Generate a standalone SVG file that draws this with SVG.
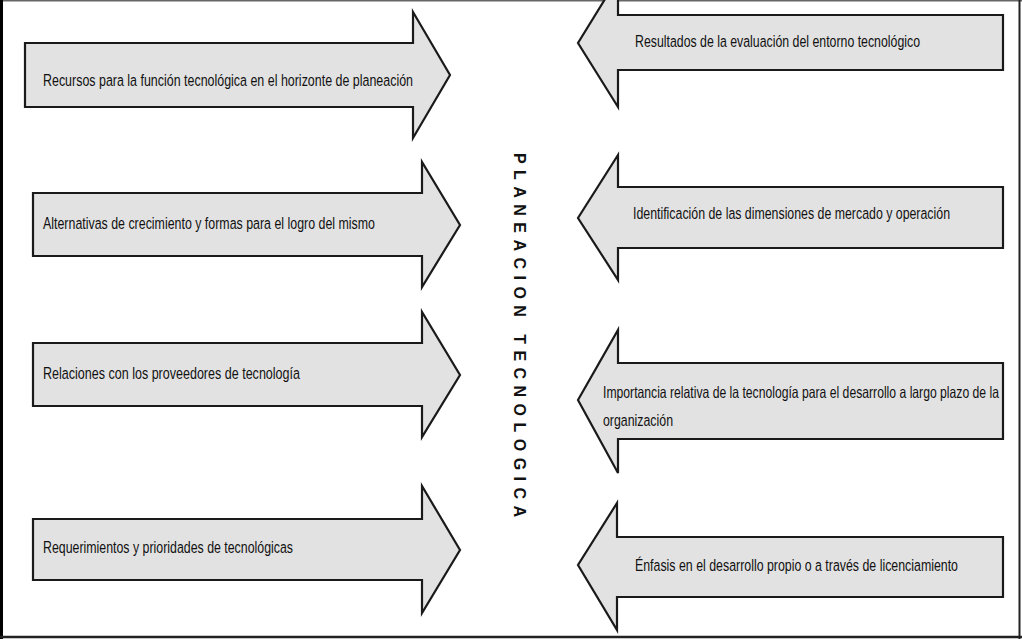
<svg xmlns="http://www.w3.org/2000/svg" width="1022" height="639" viewBox="0 0 1022 639">
  <style>
    .arrow { fill: #e2e2e2; stroke: #1a1a1a; stroke-width: 2.2; stroke-linejoin: miter; }
    .lbl { font-family: "Liberation Sans", Arial, sans-serif; font-size: 14px; fill: #111; }
    .title { font-family: "Liberation Sans", Arial, sans-serif; font-size: 16px; font-weight: bold; fill: #111; }
  </style>
  <rect x="0" y="0" width="1022" height="639" fill="#ffffff"/>
  <g id="frame">
    <line x1="0" y1="0.75" x2="1022" y2="0.75" stroke="#666" stroke-width="1.5"/>
    <line x1="1.5" y1="0" x2="1.5" y2="639" stroke="#000" stroke-width="3"/>
    <line x1="1019.5" y1="0" x2="1019.5" y2="639" stroke="#222" stroke-width="2"/>
    <line x1="0" y1="637" x2="1022" y2="637" stroke="#222" stroke-width="2.5"/>
  </g>
  <g id="connectors"></g>
  <g id="n1">
    <polygon class="arrow" points="25,43 413,43 413,12 450,75 413,138 413,107 25,107"/>
    <text class="lbl" transform="translate(43,86) scale(1,1.12)" textLength="370" lengthAdjust="spacingAndGlyphs">Recursos para la función tecnológica en el horizonte de planeación</text>
  </g>
  <g id="n2">
    <polygon class="arrow" points="1003,15 618,15 618,-22 578,43 618,107 618,70 1003,70"/>
    <text class="lbl" transform="translate(635,47) scale(1,1.12)" textLength="285" lengthAdjust="spacingAndGlyphs">Resultados de la evaluación del entorno tecnológico</text>
  </g>
  <g id="n3">
    <polygon class="arrow" points="33,193 422,193 422,162 460,225 422,287 422,256 33,256"/>
    <text class="lbl" transform="translate(43,229) scale(1,1.12)" textLength="332" lengthAdjust="spacingAndGlyphs">Alternativas de crecimiento y formas para el logro del mismo</text>
  </g>
  <g id="n4">
    <polygon class="arrow" points="1003,187 618,187 618,155 578,218 618,280 618,248 1003,248"/>
    <text class="lbl" transform="translate(633,219) scale(1,1.12)" textLength="317" lengthAdjust="spacingAndGlyphs">Identificación de las dimensiones de mercado y operación</text>
  </g>
  <g id="n5">
    <polygon class="arrow" points="33,343 422,343 422,312 460,375 422,437 422,406 33,406"/>
    <text class="lbl" transform="translate(43,379) scale(1,1.12)" textLength="257" lengthAdjust="spacingAndGlyphs">Relaciones con los proveedores de tecnología</text>
  </g>
  <g id="n6">
    <polygon class="arrow" points="1003,363 618,363 618,330 578,400 618,473 618,439 1003,439"/>
    <text class="lbl" transform="translate(603,398) scale(0.8,1.12)" textLength="495" lengthAdjust="spacingAndGlyphs">Importancia relativa de la tecnología para el desarrollo a largo plazo de la</text>
    <text class="lbl" transform="translate(603,426) scale(1,1.12)" textLength="70" lengthAdjust="spacingAndGlyphs">organización</text>
  </g>
  <g id="n7">
    <polygon class="arrow" points="33,519 422,519 422,486 460,550 422,613 422,580 33,580"/>
    <text class="lbl" transform="translate(43,553) scale(1,1.12)" textLength="250" lengthAdjust="spacingAndGlyphs">Requerimientos y prioridades de tecnológicas</text>
  </g>
  <g id="n8">
    <polygon class="arrow" points="1003,537 617,537 617,503 578,565 617,630 617,597 1003,597"/>
    <text class="lbl" transform="translate(635,571) scale(1,1.12)" textLength="323" lengthAdjust="spacingAndGlyphs">Énfasis en el desarrollo propio o a través de licenciamiento</text>
  </g>
  <g id="title">
    <text class="title" transform="translate(514,153) rotate(90)" x="0" y="0" textLength="364" lengthAdjust="spacing">PLANEACION TECNOLOGICA</text>
  </g>
</svg>
